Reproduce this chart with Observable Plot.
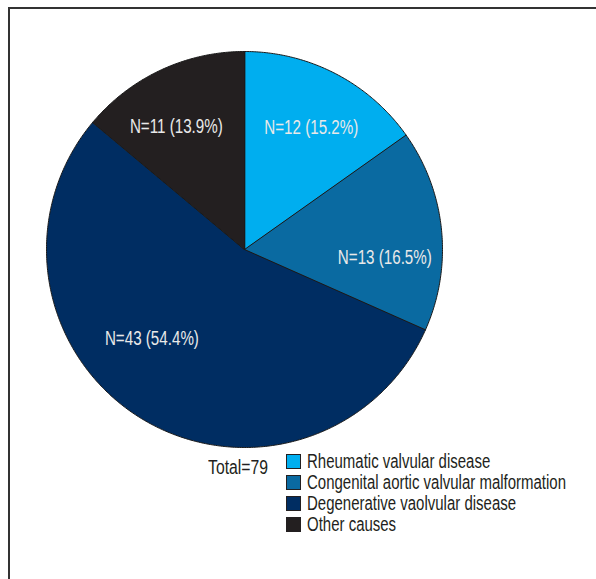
<!DOCTYPE html>
<html>
<head>
<meta charset="utf-8">
<script src="https://cdn.jsdelivr.net/npm/d3@7"></script>
<script src="https://cdn.jsdelivr.net/npm/@observablehq/plot@0.6"></script>
<style>
  html, body { margin: 0; padding: 0; background: #fff; width: 596px; height: 579px; overflow: hidden; }
  body { position: relative; font-family: "Liberation Sans", Arial, sans-serif; }
  #frame { position: absolute; left: 8px; top: 7px; right: -10px; bottom: -10px; border-top: 2px solid #333; border-left: 2px solid #333; }
  #pie { position: absolute; left: 44px; top: 49px; }
  #total { position: absolute; left: 208px; top: 456px; font-size: 20px; line-height: 22px; color: #231f20; white-space: nowrap; transform-origin: left center; display: inline-block; }
  #legend { position: absolute; left: 286px; top: 454px; font-size: 20px; color: #231f20; }
  .row { position: relative; height: 20.9px; white-space: nowrap; }
  .sw { position: absolute; left: 0; top: 0; width: 13px; height: 13px; border: 1px solid #231f20; }
  .tx { position: absolute; left: 21px; top: -4px; line-height: 22px; display: inline-block; transform-origin: left center; }
</style>
</head>
<body>
<div id="frame"></div>
<div id="pie"></div>
<div id="total"></div>
<div id="legend"></div>
<script>
// ---- data ----
const causes = ["Rheumatic valvular disease", "Congenital aortic valvular malformation", "Degenerative vaolvular disease", "Other causes"];
const counts = [12, 13, 43, 11];
const percents = ["15.2%", "16.5%", "54.4%", "13.9%"];
const colors = ["#00aeef", "#0a6aa1", "#002d62", "#231f20"];
const totalLabel = "Total=79";

// ---- layout (label anchor: angle in degrees clockwise from top, radius fraction) ----
const labelAnchors = [[28.8, 0.70], [93.3, 0.71], [226, 0.65], [-29, 0.71]];
const labelWidth = 94;    // condensed label width in px
const legendWidth = 259;  // width of the longest legend entry in px
const totalWidth = 60;

const rows = causes.map((c, i) => ({cause: c, n: counts[i], pct: percents[i]}));
const arcs = d3.pie().sort(null).value(d => d.n)(rows);

// arc polygons in unit-circle coordinates (y up)
const pts = [];
for (const a of arcs) {
  pts.push({cause: a.data.cause, x: 0, y: 0});
  const steps = Math.max(2, Math.ceil((a.endAngle - a.startAngle) / (Math.PI / 360)));
  for (let k = 0; k <= steps; k++) {
    const t = a.startAngle + (a.endAngle - a.startAngle) * k / steps;
    pts.push({cause: a.data.cause, x: Math.sin(t), y: Math.cos(t)});
  }
}

const labels = rows.map((d, i) => {
  const [deg, r] = labelAnchors[i];
  const t = deg * Math.PI / 180;
  return {text: `N=${d.n} (${d.pct})`, x: r * Math.sin(t), y: r * Math.cos(t)};
});

const chart = Plot.plot({
  width: 400,
  height: 400,
  margin: 2,
  x: {domain: [-1, 1], axis: null},
  y: {domain: [-1, 1], axis: null},
  color: {domain: causes, range: colors},
  style: {overflow: "visible", background: "transparent"},
  marks: [
    Plot.line(pts, {x: "x", y: "y", z: "cause", fill: "cause", stroke: "#1a1a1a", strokeWidth: 1, curve: "linear-closed", strokeLinejoin: "round"}),
    Plot.text(labels, {x: "x", y: "y", text: "text", fill: "#e9e9e9", fontSize: 20, fontFamily: "Liberation Sans, Arial, sans-serif"})
  ]
});
document.getElementById("pie").appendChild(chart);

// condense the slice labels (reference uses a condensed face)
const texts = chart.querySelectorAll("text");
let k1 = 1;
if (texts.length) {
  const w0 = texts[0].getComputedTextLength();
  if (w0 > 0) k1 = labelWidth / w0;
  texts.forEach(t => {
    const w = t.getComputedTextLength();
    t.setAttribute("textLength", (w * k1).toFixed(1));
    t.setAttribute("lengthAdjust", "spacingAndGlyphs");
  });
}

// legend
const legend = document.getElementById("legend");
const spans = [];
causes.forEach((c, i) => {
  const row = document.createElement("div");
  row.className = "row";
  const sw = document.createElement("span");
  sw.className = "sw";
  sw.style.background = colors[i];
  const tx = document.createElement("span");
  tx.className = "tx";
  tx.textContent = c;
  row.appendChild(sw);
  row.appendChild(tx);
  legend.appendChild(row);
  spans.push(tx);
});
const maxW = Math.max(...spans.map(s => s.getBoundingClientRect().width));
const k2 = maxW > 0 ? legendWidth / maxW : 1;
spans.forEach(s => { s.style.transform = `scaleX(${k2})`; });

const total = document.getElementById("total");
total.textContent = totalLabel;
const tw = total.getBoundingClientRect().width;
total.style.transform = `scaleX(${tw > 0 ? totalWidth / tw : k2})`;
</script>
</body>
</html>
